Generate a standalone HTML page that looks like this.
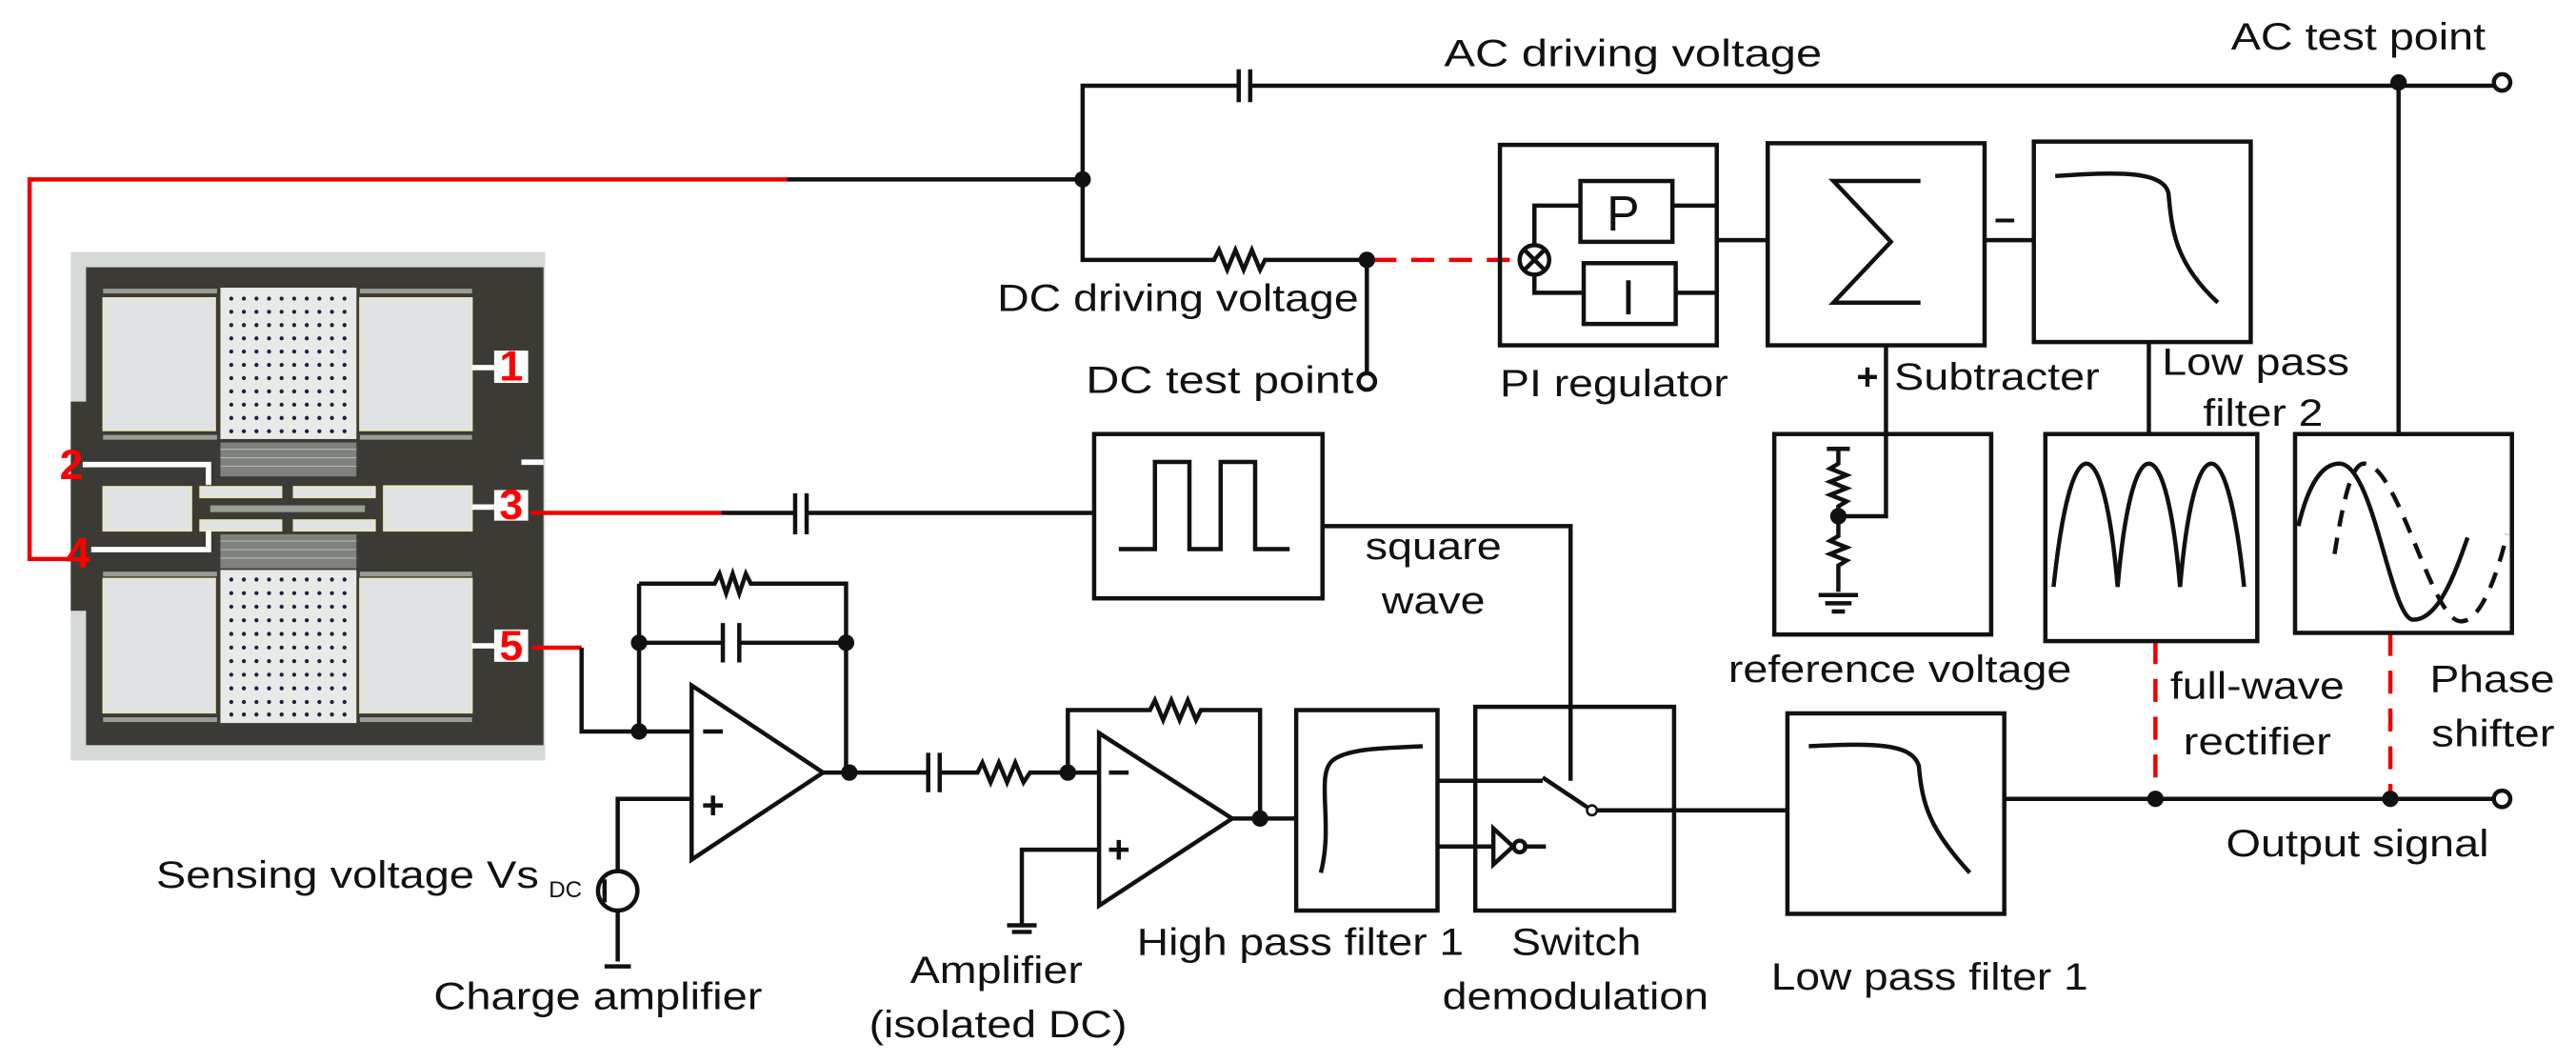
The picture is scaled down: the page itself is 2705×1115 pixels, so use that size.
<!DOCTYPE html>
<html><head><meta charset="utf-8"><style>
html,body{margin:0;padding:0;background:#fff}
svg{display:block}
text{font-family:"Liberation Sans",Arial,sans-serif;fill:#111}
</style></head><body>
<svg width="2705" height="1115" viewBox="0 0 1568 646" xmlns="http://www.w3.org/2000/svg">
<defs>
<g id="r"><circle cx="512" cy="0" r="6"/><circle cx="549" cy="0" r="6"/><circle cx="586" cy="0" r="6"/><circle cx="623" cy="0" r="6"/><circle cx="660" cy="0" r="6"/><circle cx="697" cy="0" r="6"/><circle cx="734" cy="0" r="6"/><circle cx="771" cy="0" r="6"/><circle cx="808" cy="0" r="6"/><circle cx="845" cy="0" r="6"/></g>
</defs>
<rect width="1568" height="646" fill="#fff"/>
<!-- chip -->
<g transform="translate(34.8,144.9) scale(0.207)">
<rect x="40" y="40" width="1395" height="1495" fill="#d5dad6"/>
<path d="M85 85 H1430 V1490 H85 V1095 H40 V480 H85 Z" fill="#3b3a35"/>
<g fill="#dfe3e3" stroke="#f1e9b0" stroke-width="4">
<rect x="135" y="175" width="330" height="390"/><rect x="890" y="175" width="330" height="390"/>
<rect x="135" y="1000" width="330" height="395"/><rect x="890" y="1000" width="330" height="395"/>
<rect x="135" y="730" width="260" height="130"/><rect x="960" y="728" width="260" height="132"/>
<rect x="420" y="730" width="240" height="32"/><rect x="695" y="730" width="240" height="32"/>
<rect x="420" y="828" width="240" height="32"/><rect x="695" y="828" width="240" height="32"/>
</g>
<g fill="#9a9c96"><rect x="135" y="148" width="335" height="14"/><rect x="890" y="148" width="330" height="14"/>
<rect x="135" y="578" width="335" height="14"/><rect x="890" y="578" width="330" height="14"/>
<rect x="135" y="980" width="335" height="14"/><rect x="890" y="980" width="330" height="14"/>
<rect x="135" y="1408" width="335" height="14"/><rect x="890" y="1408" width="330" height="14"/>
<rect x="450" y="785" width="455" height="20"/></g>
<rect x="480" y="145" width="400" height="445" fill="#e8eae8"/>
<rect x="480" y="975" width="400" height="450" fill="#e8eae8"/>
<rect x="480" y="600" width="400" height="100" fill="#7e817c"/>
<rect x="480" y="870" width="400" height="100" fill="#7e817c"/>
<g stroke="#b8bab4" stroke-width="3">
<line x1="480" y1="620" x2="880" y2="620"/><line x1="480" y1="645" x2="880" y2="645"/><line x1="480" y1="670" x2="880" y2="670"/>
<line x1="480" y1="890" x2="880" y2="890"/><line x1="480" y1="915" x2="880" y2="915"/><line x1="480" y1="940" x2="880" y2="940"/></g>
<g fill="#1b2040">
<use href="#r" y="177"/><use href="#r" y="216"/><use href="#r" y="255"/><use href="#r" y="294"/><use href="#r" y="333"/><use href="#r" y="372"/><use href="#r" y="411"/><use href="#r" y="450"/><use href="#r" y="489"/><use href="#r" y="528"/><use href="#r" y="567"/>
<use href="#r" y="1003"/><use href="#r" y="1043"/><use href="#r" y="1083"/><use href="#r" y="1123"/><use href="#r" y="1163"/><use href="#r" y="1203"/><use href="#r" y="1243"/><use href="#r" y="1283"/><use href="#r" y="1323"/><use href="#r" y="1363"/><use href="#r" y="1400"/>
</g>
<g stroke="#fff" stroke-width="16" fill="none">
<path d="M75 665 H445 V725"/><path d="M100 915 H445 V860"/>
<line x1="1220" y1="380" x2="1285" y2="380"/><line x1="1220" y1="790" x2="1285" y2="790"/><line x1="1220" y1="1198" x2="1285" y2="1198"/>
<line x1="1365" y1="658" x2="1430" y2="658"/></g>
<g fill="#fff"><rect x="1285" y="330" width="100" height="95"/><rect x="1285" y="740" width="100" height="90"/><rect x="1285" y="1150" width="100" height="95"/></g>
<g font-size="125" font-weight="bold" text-anchor="middle">
<text x="1335" y="418" style="fill:#f00">1</text><text x="1335" y="826" style="fill:#f00">3</text><text x="1335" y="1240" style="fill:#f00">5</text>
<text x="42" y="708" style="fill:#f00">2</text><text x="62" y="968" style="fill:#f00">4</text></g>
</g>
<!-- red wires -->
<g stroke="#e00" stroke-width="2.6" fill="none">
<path d="M479 109 H18 V340 H45"/>
<line x1="323" y1="312" x2="439" y2="312"/>
<line x1="324" y1="394" x2="354" y2="394"/>
<line x1="836" y1="158" x2="924" y2="158" stroke-dasharray="14,9"/>
<line x1="1312" y1="390" x2="1312" y2="486" stroke-dasharray="14,9"/>
<line x1="1455" y1="385" x2="1455" y2="486" stroke-dasharray="14,9"/>
</g>
<g stroke="#111" stroke-width="2.6" fill="none">
<path d="M479 109 H659 V52 H754 M761 52 H1518"/>
<path d="M754 42 V62 M761 42 V62"/>
<path d="M659 109 V158 H739 l3 -6 l5 12 l5 -12 l5 12 l5 -12 l5 12 l3 -6 H832 V226"/>
<circle cx="832" cy="232" r="5" fill="#fff"/>
<circle cx="1523" cy="50" r="5" fill="#fff"/>
<line x1="1460" y1="50" x2="1460" y2="264"/>
<rect x="913" y="88" width="132" height="122"/>
<rect x="962" y="110" width="56" height="37"/><rect x="964" y="160" width="56" height="37"/>
<circle cx="934" cy="158" r="9"/><path d="M928 152 l12 12 M940 152 l-12 12"/>
<path d="M934 149 V125 H962 M934 167 V178 H964 M1018 125 H1045 M1020 178 H1045"/>
<line x1="1045" y1="146" x2="1076" y2="146"/>
<rect x="1076" y="87" width="132" height="123"/>
<path d="M1169 110 H1116 L1151 147 L1116 184 H1169"/>
<line x1="1208" y1="146" x2="1238" y2="146"/>
<rect x="1238" y="86" width="132" height="122"/>
<path d="M1251 107 C1290 104 1318 104 1320 118 C1322 140 1324 160 1350 184"/>
<path d="M1148 210 V314 H1119"/>
<line x1="1308" y1="208" x2="1308" y2="264"/>
<rect x="1080" y="264" width="132" height="122"/>
<path d="M1112 273 H1126 M1119 273 V282 l-5 3 l10 4 l-10 4 l10 4 l-10 4 l10 4 l-5 3 V326 l-5 3 l10 4 l-10 4 l10 4 l-5 3 V360"/>
<path d="M1107 362 H1131 M1111 367 H1127 M1115 372 H1123"/>
<rect x="1245" y="264" width="129" height="126"/>
<path d="M1250 357 C1255 310 1262 282 1270 282 C1278 282 1285 310 1289 357 C1293 310 1300 282 1308 282 C1316 282 1323 310 1327 357 C1331 310 1338 282 1346 282 C1354 282 1361 310 1366 357"/>
<rect x="1397" y="264" width="132" height="121"/>
<path d="M1399 320 C1405 295 1413 282 1424 282 C1445 282 1455 377 1469 377 C1484 377 1494 350 1502 327"/>
<path d="M1421 337 C1427 300 1432 282 1439 282 C1460 282 1480 378 1498 378 C1510 378 1520 350 1526 325" stroke-dasharray="10,7"/>
<line x1="1220" y1="486" x2="1518" y2="486"/>
<circle cx="1523" cy="486" r="5" fill="#fff"/>
<path d="M439 312 H484 M491 312 H666 M484 300 V325 M491 300 V325"/>
<rect x="666" y="264" width="139" height="100"/>
<path d="M681 334 H703 V281 H724 V334 H743 V281 H764 V334 H785"/>
<path d="M805 320 H956 V475"/>
<path d="M354 394 V445 H421 M389 355 V445 M389 391 H440 M450 391 H517 M440 379 V403 M450 379 V403 M389 355 H435 l3 -6 l4 12 l4 -12 l4 12 l4 -12 l3 6 H515 V470"/>
<path d="M421 417 L501 470 L421 523 Z"/>
<path d="M428 445 H440 M428 490 H440 M434 484 V496"/>
<path d="M421 486 H376 V530 M376 554 V585 M368 588 H384"/>
<circle cx="376" cy="542" r="12"/>
<path d="M368 535 V549"/>
<path d="M501 470 H565 M572 470 H595 l3 -6 l5 12 l5 -12 l5 12 l5 -12 l5 12 l4 -6 H669 M565 458 V482 M572 458 V482"/>
<path d="M669 446 L750 498 L669 551 Z"/>
<path d="M675 470 H687 M675 517 H687 M681 511 V523"/>
<path d="M650 470 V432 H700 l3 -6 l5 12 l5 -12 l5 12 l5 -12 l5 12 l3 -6 H767 V498 M750 498 H789"/>
<path d="M669 517 H622 V562 M613 563 H631 M616 567 H628"/>
<rect x="789" y="432" width="86" height="122"/>
<path d="M804 531 C812 500 800 470 812 462 C822 455 845 455 866 454"/>
<rect x="898" y="430" width="121" height="124"/>
<path d="M875 475 H939 M875 515 H909 M939 473 L966 491 M972 493 H1088 M927 515 H941"/>
<path d="M909 504 L921 515 L909 526 Z"/>
<circle cx="925" cy="515" r="3.5"/>
<circle cx="969" cy="493" r="3" fill="#fff" stroke-width="1.5"/>
<rect x="1088" y="434" width="132" height="122"/>
<path d="M1101 454 C1140 452 1164 452 1168 466 C1170 490 1175 505 1199 531"/>
</g>
<g fill="#111">
<circle cx="659" cy="109" r="5"/><circle cx="832" cy="158" r="5"/><circle cx="1460" cy="50" r="5"/>
<circle cx="1119" cy="314" r="5"/><circle cx="1312" cy="486" r="5"/><circle cx="1455" cy="486" r="5"/>
<circle cx="389" cy="391" r="5"/><circle cx="515" cy="391" r="5"/><circle cx="389" cy="445" r="5"/><circle cx="517" cy="470" r="5"/>
<circle cx="650" cy="470" r="5"/><circle cx="767" cy="498" r="5"/>
</g>
<g font-size="23">
<text x="978" y="140" font-size="30">P</text>
<text x="987" y="191" font-size="30">I</text>
<text x="879" y="40" textLength="230" lengthAdjust="spacingAndGlyphs">AC  driving voltage</text>
<text x="1358" y="30" textLength="155" lengthAdjust="spacingAndGlyphs">AC test point</text>
<text x="607" y="189" textLength="220" lengthAdjust="spacingAndGlyphs">DC driving voltage</text>
<text x="661" y="239" textLength="163" lengthAdjust="spacingAndGlyphs">DC test point</text>
<text x="913" y="241" textLength="139" lengthAdjust="spacingAndGlyphs">PI regulator</text>
<text x="1130" y="237" font-weight="bold">+</text>
<text x="1153" y="237" textLength="125" lengthAdjust="spacingAndGlyphs">Subtracter</text>
<text x="1214" y="140" font-weight="bold">–</text>
<text x="1316" y="228" textLength="114" lengthAdjust="spacingAndGlyphs">Low pass</text>
<text x="1341" y="259" textLength="73" lengthAdjust="spacingAndGlyphs">filter 2</text>
<text x="1052" y="415" textLength="209" lengthAdjust="spacingAndGlyphs">reference voltage</text>
<text x="1321" y="425" textLength="106" lengthAdjust="spacingAndGlyphs">full-wave</text>
<text x="1329" y="459" textLength="90" lengthAdjust="spacingAndGlyphs">rectifier</text>
<text x="1479" y="421" textLength="76" lengthAdjust="spacingAndGlyphs">Phase</text>
<text x="1480" y="454" textLength="75" lengthAdjust="spacingAndGlyphs">shifter</text>
<text x="1355" y="521" textLength="160" lengthAdjust="spacingAndGlyphs">Output signal</text>
<text x="831" y="340" textLength="83" lengthAdjust="spacingAndGlyphs">square</text>
<text x="841" y="373" textLength="63" lengthAdjust="spacingAndGlyphs">wave</text>
<text x="692" y="581" textLength="199" lengthAdjust="spacingAndGlyphs">High pass filter 1</text>
<text x="920" y="581" textLength="79" lengthAdjust="spacingAndGlyphs">Switch</text>
<text x="878" y="614" textLength="162" lengthAdjust="spacingAndGlyphs">demodulation</text>
<text x="1078" y="602" textLength="193" lengthAdjust="spacingAndGlyphs">Low pass filter 1</text>
<text x="95" y="540" textLength="233" lengthAdjust="spacingAndGlyphs">Sensing voltage Vs</text>
<text x="334" y="546" font-size="14">DC</text>
<text x="264" y="614" textLength="200" lengthAdjust="spacingAndGlyphs">Charge amplifier</text>
<text x="554" y="598" textLength="105" lengthAdjust="spacingAndGlyphs">Amplifier</text>
<text x="529" y="631" textLength="157" lengthAdjust="spacingAndGlyphs">(isolated DC)</text>
</g>
</svg>
</body></html>
